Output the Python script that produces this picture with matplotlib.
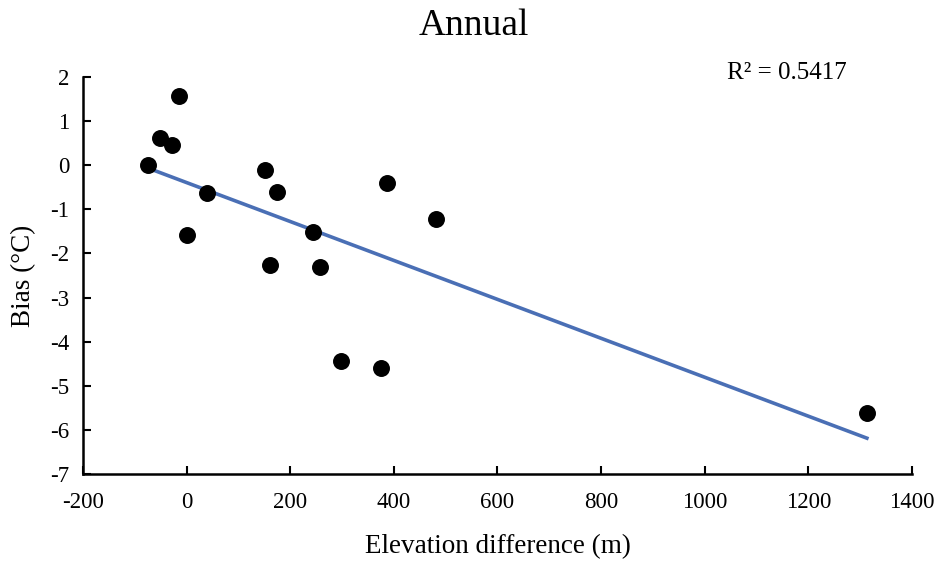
import matplotlib.pyplot as plt
import numpy as np

plt.rcParams['font.family'] = ['Liberation Serif', 'DejaVu Serif']
plt.rcParams['axes.unicode_minus'] = False

# elevation difference (m) and annual bias (degC)
elev_diff = np.array([-74, -51, -28, -15, 39, 0, 151, 175, 244, 161, 257, 298, 375, 387, 481, 1313])
bias = np.array([0.0, 0.61, 0.45, 1.56, -0.63, -1.59, -0.11, -0.61, -1.52, -2.27, -2.31,
                 -4.44, -4.60, -0.41, -1.22, -5.62])

x_ticks = np.arange(-200, 1401, 200)
y_ticks = np.arange(-7, 3, 1)

slope, intercept = np.polyfit(elev_diff, bias, 1)
r2 = 0.5417

fig = plt.figure(figsize=(9.47, 5.65), dpi=100)
ax = fig.add_axes([0.0876, 0.161, 0.8754, 0.703])

ax.scatter(elev_diff, bias, s=125, color='black', zorder=3)
xs = np.array([elev_diff.min(), elev_diff.max()])
ax.plot(xs, slope * xs + intercept, color='#4a6fb5', linewidth=2.6, zorder=2)

ax.set_xlim(-200, 1400)
ax.set_ylim(-7, 2)
ax.set_xticks(x_ticks)
ax.set_yticks(y_ticks)
ax.tick_params(direction='in', length=6, width=1.5, labelsize=16.5, pad=13)
ax.tick_params(axis='y', pad=10)
for s in ['top', 'right']:
    ax.spines[s].set_visible(False)
for s in ['left', 'bottom']:
    ax.spines[s].set_linewidth(1.8)

ax.set_xlabel('Elevation difference (m)', fontsize=19.5, labelpad=15)
ax.set_ylabel('Bias (°C)', fontsize=19.5, labelpad=10)
fig.suptitle('Annual', fontsize=27, y=0.985)
fig.text(0.768, 0.871, 'R² = %.4f' % r2, fontsize=18, va='center')

fig.savefig('out.png', dpi=100)
